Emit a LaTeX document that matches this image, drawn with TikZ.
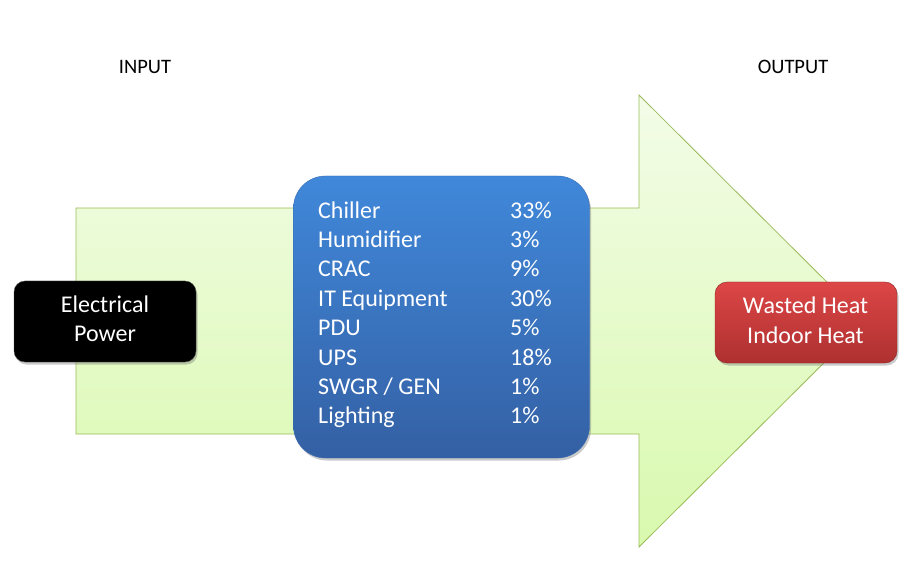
\documentclass[tikz,border=0pt]{standalone}
\usepackage{fontspec}
\setmainfont{Carlito}
\usetikzlibrary{shadows}
\definecolor{arrowtop}{HTML}{F3FCE8}
\definecolor{arrowbot}{HTML}{D9F9AE}
\definecolor{arrowline}{HTML}{9BBB59}
\definecolor{bluetop}{HTML}{4088DA}
\definecolor{bluebot}{HTML}{3460A4}
\definecolor{blueline}{HTML}{3A6BB0}
\definecolor{redtop}{HTML}{DD4646}
\definecolor{redbot}{HTML}{AE3030}
\tikzset{
  lbl/.style={font=\fontsize{20.5}{24}\selectfont, text=black, anchor=base, inner sep=0pt},
  boxtxt/.style={font=\fontsize{24}{29}\selectfont, text=white, anchor=base, inner sep=0pt},
  rowtxt/.style={font=\fontsize{24}{29}\selectfont, text=white, anchor=base west, inner sep=0pt},
  softshadow/.style={drop shadow={shadow xshift=1.5pt, shadow yshift=-2.5pt, opacity=0.35, fill=black!60}},
}
\begin{document}
\begin{tikzpicture}[x=1pt,y=-1pt]
\useasboundingbox (0,0) rectangle (905,561);
% big arrow
\path[draw=arrowline, line width=0.8pt, top color=arrowtop, bottom color=arrowbot]
  (76,208) -- (639,208) -- (639,95) -- (866,321) -- (639,547) -- (639,434) -- (76,434) -- cycle;
% labels
\node[lbl] (input) at (145,74) {INPUT};
\node[lbl] (output) at (793,74) {OUTPUT};
% electrical power
\node[draw=black!70, fill=black, rounded corners=11pt, minimum width=182pt, minimum height=81pt, softshadow] (elec) at (105,321.5) {};
\node[boxtxt] (elec1) at (105,312.5) {Electrical};
\node[boxtxt] (elec2) at (105,341.5) {Power};
% wasted heat
\node[draw=redbot!80!black, top color=redtop, bottom color=redbot, rounded corners=12pt, minimum width=182pt, minimum height=81pt, softshadow] (heat) at (806,322.5) {};
\node[boxtxt] (heat1) at (805.5,314) {Wasted Heat};
\node[boxtxt] (heat2) at (805.5,343) {Indoor Heat};
% blue box
\node[draw=blueline, top color=bluetop, bottom color=bluebot, rounded corners=32pt, minimum width=296pt, minimum height=282pt, softshadow] (loads) at (441.5,317) {};
\node[rowtxt] (r1a) at (318,219) {Chiller};
\node[rowtxt] (r1b) at (510,219) {33\%};
\node[rowtxt] (r2a) at (318,248) {Humidifier};
\node[rowtxt] (r2b) at (510,248) {3\%};
\node[rowtxt] (r3a) at (318,277) {CRAC};
\node[rowtxt] (r3b) at (510,277) {9\%};
\node[rowtxt] (r4a) at (318,306.5) {IT Equipment};
\node[rowtxt] (r4b) at (510,306.5) {30\%};
\node[rowtxt] (r5a) at (318,336) {PDU};
\node[rowtxt] (r5b) at (510,336) {5\%};
\node[rowtxt] (r6a) at (318,365) {UPS};
\node[rowtxt] (r6b) at (510,365) {18\%};
\node[rowtxt] (r7a) at (318,394) {SWGR / GEN};
\node[rowtxt] (r7b) at (510,394) {1\%};
\node[rowtxt] (r8a) at (318,423) {Lighting};
\node[rowtxt] (r8b) at (510,423) {1\%};
\end{tikzpicture}
\end{document}
